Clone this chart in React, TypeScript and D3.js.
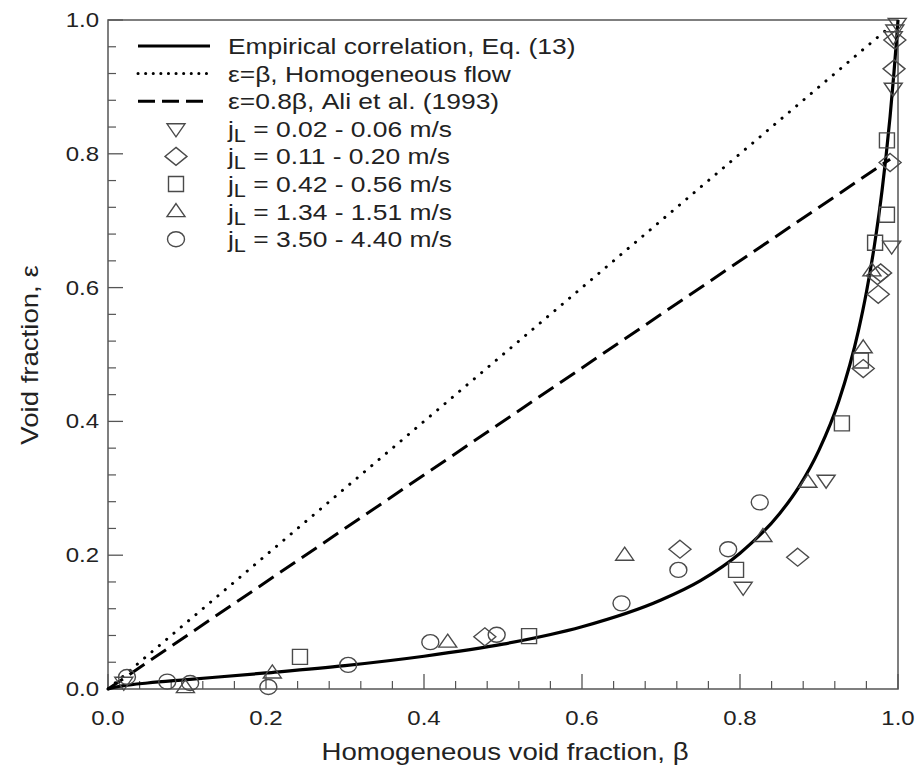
import React from 'react';
import * as d3 from 'd3';

// Empirical correlation, Eq. (13)
const curveBeta = [0, 0.01, 0.02, 0.05, 0.1, 0.2, 0.3, 0.4, 0.5, 0.6, 0.7, 0.75, 0.8, 0.85, 0.875, 0.9, 0.925, 0.95, 0.96, 0.97, 0.98, 0.985, 0.99, 0.995, 0.998, 1.0];
const curveEps = [0, 0.003, 0.005, 0.009, 0.014, 0.024, 0.035, 0.049, 0.067, 0.093, 0.133, 0.162, 0.203, 0.262, 0.303, 0.357, 0.43, 0.536, 0.593, 0.662, 0.747, 0.798, 0.856, 0.923, 0.968, 1.0];

// reference lines (end points)
const homogeneousLine = [[0, 0], [0.99, 0.99]];
const aliLine = [[0, 0], [0.99, 0.792]];

// measured data, one list per liquid superficial velocity range
const jL002 = [[0.999, 0.995], [0.996, 0.985], [0.994, 0.975], [0.994, 0.898], [0.992, 0.662], [0.909, 0.312], [0.804, 0.152], [0.02, 0.01]];
const jL011 = [[0.996, 0.97], [0.995, 0.927], [0.99, 0.787], [0.978, 0.622], [0.974, 0.618], [0.975, 0.59], [0.956, 0.479], [0.873, 0.197], [0.724, 0.209], [0.477, 0.078]];
const jL042 = [[0.986, 0.82], [0.986, 0.709], [0.971, 0.667], [0.953, 0.491], [0.929, 0.397], [0.795, 0.178], [0.533, 0.079], [0.243, 0.048]];
const jL134 = [[0.967, 0.625], [0.956, 0.51], [0.886, 0.309], [0.829, 0.228], [0.654, 0.2], [0.43, 0.07], [0.208, 0.024], [0.098, 0.002]];
const jL350 = [[0.825, 0.279], [0.785, 0.209], [0.722, 0.178], [0.65, 0.128], [0.492, 0.081], [0.408, 0.07], [0.304, 0.036], [0.203, 0.003], [0.104, 0.009], [0.075, 0.011], [0.024, 0.018]];

const seriesLabels = ['0.02 - 0.06 m/s', '0.11 - 0.20 m/s', '0.42 - 0.56 m/s', '1.34 - 1.51 m/s', '3.50 - 4.40 m/s'];
const seriesShapes = ['down', 'diamond', 'square', 'up', 'circle'];
const seriesData = [jL002, jL011, jL042, jL134, jL350];

const majorTicks = [0, 0.2, 0.4, 0.6, 0.8, 1.0];

const W = 918;
const H = 773;
const FONT = 'Liberation Sans, Arial, sans-serif';
const MARK = '#4a4a4a';
const TXT = '#222';
const SX = 1.2; // the original's lettering is drawn wider than regular Arial

const x = d3.scaleLinear().domain([0, 1]).range([108, 898]);
const y = d3.scaleLinear().domain([0, 1]).range([689, 20]);

const minorTicks = d3.range(0, 1.0001, 0.04).filter(t => Math.abs(t * 5 - Math.round(t * 5)) > 1e-6);

const shapePath = (shape: string): string => {
  switch (shape) {
    case 'down':
      return 'M-9,-5L9,-5L0,8Z';
    case 'up':
      return 'M0,-8L9,5L-9,5Z';
    case 'square':
      return 'M-7.5,-7.5H7.5V7.5H-7.5Z';
    case 'diamond':
      return 'M0,-9L11,0L0,9L-11,0Z';
    default:
      return 'M-8.5,0A8.5,7.5 0 1,0 8.5,0A8.5,7.5 0 1,0 -8.5,0Z';
  }
};

const App: React.FC = () => {
  const line = d3.line<[number, number]>()
    .x(d => x(d[0]))
    .y(d => y(d[1]))
    .curve(d3.curveMonotoneX);

  const curvePts: [number, number][] = curveBeta.map((b, i) => [b, curveEps[i]]);
  const straight = d3.line<number[]>().x(d => x(d[0])).y(d => y(d[1]));

  const legendY0 = 46;
  const legendStep = 27.6;

  return (
    <svg width={W} height={H} style={{ position: 'absolute', left: 0, top: 0, background: '#fff' }} fontFamily={FONT}>
      <rect x={0} y={0} width={W} height={H} fill="#fff" />

      {/* frame */}
      <rect x={x(0)} y={y(1)} width={x(1) - x(0)} height={y(0) - y(1)} fill="none" stroke="#555" strokeWidth={1.5} />

      {/* ticks */}
      {majorTicks.map(t => (
        <g key={'mx' + t}>
          <line x1={x(t)} x2={x(t)} y1={y(0)} y2={y(0) - 15} stroke="#555" strokeWidth={1.3} />
          <line x1={x(0)} x2={x(0) + 15} y1={y(t)} y2={y(t)} stroke="#555" strokeWidth={1.3} />
          <text transform={`translate(${x(t)},${y(0) + 36}) scale(${SX},1)`} textAnchor="middle" fontSize={20} fill={TXT}>{t.toFixed(1)}</text>
          <text transform={`translate(${x(0) - 9},${y(t) + 7}) scale(${SX},1)`} textAnchor="end" fontSize={20} fill={TXT}>{t.toFixed(1)}</text>
        </g>
      ))}
      {minorTicks.map(t => (
        <g key={'mn' + t}>
          <line x1={x(t)} x2={x(t)} y1={y(0)} y2={y(0) - 8} stroke="#555" strokeWidth={1.2} />
          <line x1={x(0)} x2={x(0) + 8} y1={y(t)} y2={y(t)} stroke="#555" strokeWidth={1.2} />
        </g>
      ))}

      {/* axis titles */}
      <text transform={`translate(505,760) scale(${SX},1)`} textAnchor="middle" fontSize={23} fill={TXT}>Homogeneous void fraction, β</text>
      <text transform={`translate(38,355) rotate(-90) scale(${SX},1)`} textAnchor="middle" fontSize={23} fill={TXT}>Void fraction, ε</text>

      {/* lines */}
      <path d={straight(homogeneousLine) || ''} fill="none" stroke="#000" strokeWidth={3} strokeDasharray="0.1 9.5" strokeLinecap="round" />
      <path d={straight(aliLine) || ''} fill="none" stroke="#000" strokeWidth={3} strokeDasharray="18 8" />
      <path d={line(curvePts) || ''} fill="none" stroke="#000" strokeWidth={3.2} />

      {/* data */}
      {seriesData.map((data, si) => (
        <g key={'s' + si}>
          {data.map((d, i) => (
            <path key={i} d={shapePath(seriesShapes[si])} transform={`translate(${x(d[0])},${y(d[1])})`}
              fill="none" stroke={MARK} strokeWidth={1.4} />
          ))}
        </g>
      ))}

      {/* legend */}
      <g fontSize={22} fill={TXT}>
        <line x1={138} x2={210} y1={legendY0} y2={legendY0} stroke="#000" strokeWidth={3.2} />
        <text transform={`translate(228,${legendY0 + 8}) scale(${SX},1)`}>Empirical correlation, Eq. (13)</text>
        <line x1={138} x2={210} y1={legendY0 + legendStep} y2={legendY0 + legendStep} stroke="#000" strokeWidth={3} strokeDasharray="0.1 7.5" strokeLinecap="round" />
        <text transform={`translate(228,${legendY0 + legendStep + 8}) scale(${SX},1)`}>ε=β, Homogeneous flow</text>
        <line x1={138} x2={210} y1={legendY0 + 2 * legendStep} y2={legendY0 + 2 * legendStep} stroke="#000" strokeWidth={3} strokeDasharray="17 7" />
        <text transform={`translate(228,${legendY0 + 2 * legendStep + 8}) scale(${SX},1)`}>ε=0.8β, Ali et al. (1993)</text>
        {seriesLabels.map((lab, i) => {
          const ly = legendY0 + (i + 3) * legendStep;
          return (
            <g key={'lg' + i}>
              <path d={shapePath(seriesShapes[i])} transform={`translate(176,${ly})`} fill="none" stroke={MARK} strokeWidth={1.4} />
              <text transform={`translate(228,${ly + 8}) scale(${SX},1)`}>
                j<tspan fontSize={18} dy={5}>L</tspan><tspan dy={-5}> = {lab}</tspan>
              </text>
            </g>
          );
        })}
      </g>
    </svg>
  );
};

export default App;
